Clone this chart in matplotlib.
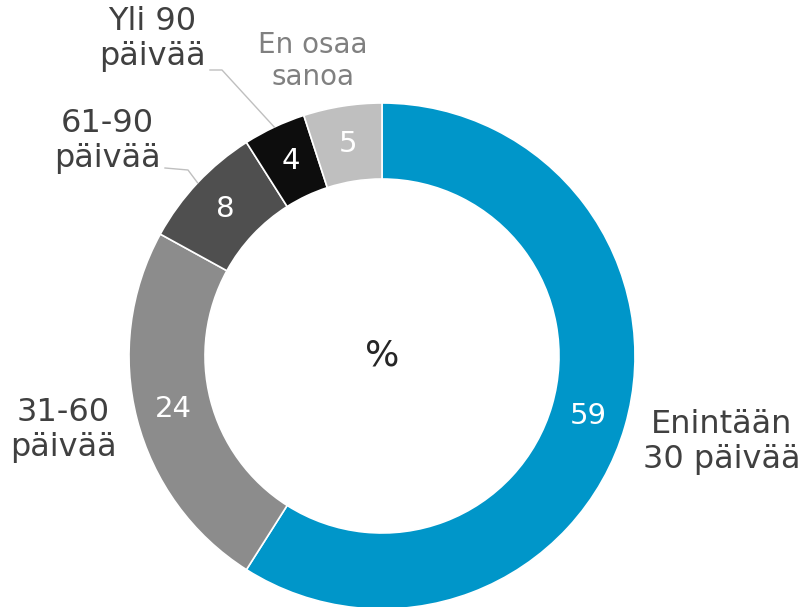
import numpy as np
import matplotlib
matplotlib.use("Agg")
import matplotlib.pyplot as plt

categories = ["Enintään\n30 päivää", "31-60\npäivää", "61-90\npäivää", "Yli 90\npäivää", "En osaa\nsanoa"]
values = [59, 24, 8, 4, 5]
colors = ["#0096C9", "#8C8C8C", "#4F4F4F", "#0D0D0D", "#BFBFBF"]
label_colors = ["#404040", "#404040", "#404040", "#404040", "#808080"]
center_text = "%"

plt.rcParams['font.family'] = ['DejaVu Sans']

fig = plt.figure(figsize=(8.08, 6.07), dpi=100)
ax = fig.add_axes([0, 0, 1, 1])

cx, cy, R = 382, 251, 253
width = 76

wedges, texts = ax.pie(values, colors=colors, startangle=90, counterclock=False,
                       radius=R, center=(cx, cy), frame=True,
                       wedgeprops=dict(width=width, edgecolor='white', linewidth=1.2))
ax.set_xlim(0, 808)
ax.set_ylim(0, 607)
ax.set_aspect('equal')
ax.axis('off')

# value labels at ring middle
rmid = R - width / 2
for w, v in zip(wedges, values):
    ang = np.deg2rad((w.theta1 + w.theta2) / 2)
    ax.text(cx + rmid * np.cos(ang), cy + rmid * np.sin(ang), str(v),
            ha='center', va='center', color='white', fontsize=21)

ax.text(cx, cy, center_text, ha='center', va='center', color='#262626', fontsize=26)

# category labels (layout positions in pixel coords, y from bottom)
label_pos = [(722, 607 - 442), (63, 607 - 430), (107, 607 - 141), (152, 607 - 39), (313, 607 - 61)]
label_sizes = [23, 23, 23, 23, 20]
for cat, (x, y), c, s in zip(categories, label_pos, label_colors, label_sizes):
    ax.text(x, y, cat, ha='center', va='center', color=c, fontsize=s, linespacing=1.15)

# leader lines for small wedges
def outer_point(w):
    ang = np.deg2rad((w.theta1 + w.theta2) / 2)
    return cx + R * np.cos(ang), cy + R * np.sin(ang)

ex, ey = outer_point(wedges[3])
ax.plot([210, 222, ex], [607 - 70, 607 - 70, ey], color='#BFBFBF', lw=1)
ex, ey = outer_point(wedges[2])
ax.plot([165, 188, ex], [607 - 168, 607 - 170, ey], color='#BFBFBF', lw=1)

fig.savefig("out.png", dpi=100)
